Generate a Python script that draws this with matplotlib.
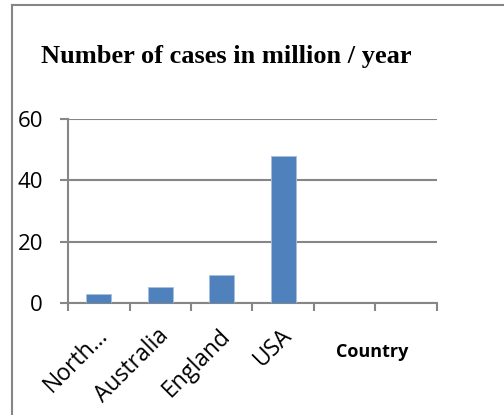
import matplotlib
matplotlib.use("Agg")
import matplotlib.pyplot as plt
from matplotlib.lines import Line2D

categories = ["North...", "Australia", "England", "USA", "", ""]
values = [3.0, 5.2, 9.2, 48.0]
yticks = [0, 20, 40, 60]

title = "Number of cases in million / year"
x_title = "Country"

grey = "#868686"
bar_color = "#4F81BD"

fig = plt.figure(figsize=(5.04, 4.15), dpi=100)
ax = fig.add_axes([68 / 504, 1 - 303 / 415, (437 - 68) / 504, (303 - 119) / 415])

ax.bar(range(len(values)), values, width=0.4, color=bar_color,
       edgecolor="#a7bfde", linewidth=0.6, zorder=3)

ax.set_xlim(-0.5, len(categories) - 0.5)
ax.set_ylim(0, 60)
ax.set_yticks(yticks)
ax.yaxis.grid(True, color=grey, linewidth=1.5)
ax.set_axisbelow(True)

# category boundaries get the tick marks, centres get the labels
ax.set_xticks([i - 0.5 for i in range(len(categories) + 1)])
ax.set_xticklabels([])
ax.set_xticks([i - 0.05 for i in range(len(categories))], minor=True)
ax.set_xticklabels(categories, minor=True, rotation=45, ha="right",
                   rotation_mode="anchor", fontsize=16.5, family="Open Sans")
ax.tick_params(axis="x", which="minor", length=0, pad=15)
ax.tick_params(axis="x", which="major", length=6, width=1.5, color=grey,
               direction="out")
ax.tick_params(axis="y", length=6, width=1.5, color=grey, pad=12,
               labelsize=16)
for lab in ax.get_yticklabels():
    lab.set_family("Open Sans")

for side in ["top", "right"]:
    ax.spines[side].set_visible(False)
for side in ["left", "bottom"]:
    ax.spines[side].set_color(grey)
    ax.spines[side].set_linewidth(1.5)

ax.text(4.44, -16, x_title, ha="center", va="center", fontsize=13,
        fontweight="bold", family="Open Sans")

fig.text(41 / 504, 1 - 63 / 415, title, ha="left", va="baseline",
         fontsize=19, fontweight="bold", family="Liberation Serif")

# outer chart frame
fig.add_artist(Line2D([12 / 504, 12 / 504], [0, 1 - 5 / 415],
                      transform=fig.transFigure, color=grey, linewidth=1.5))
fig.add_artist(Line2D([12 / 504, 1], [1 - 5 / 415, 1 - 5 / 415],
                      transform=fig.transFigure, color=grey, linewidth=1.5))

fig.savefig("out.png", dpi=100)
